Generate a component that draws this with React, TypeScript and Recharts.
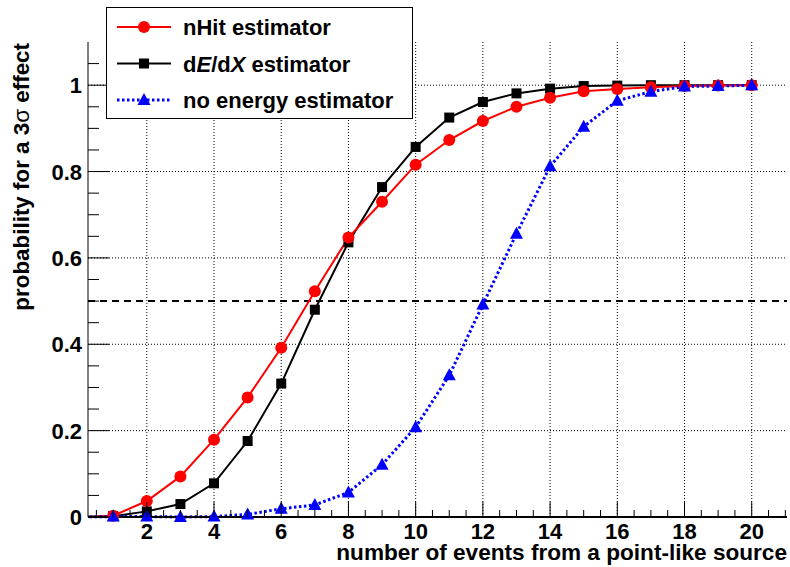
import React from 'react';
import { ComposedChart, Line, XAxis, YAxis, CartesianGrid, ReferenceLine, Legend } from 'recharts';

const xs = [0, 1, 2, 3, 4, 5, 6, 7, 8, 9, 10, 11, 12, 13, 14, 15, 16, 17, 18, 19, 20];
const nHit = [0, 0.003, 0.037, 0.094, 0.179, 0.277, 0.392, 0.523, 0.647, 0.73, 0.816, 0.873, 0.917, 0.95, 0.971, 0.986, 0.991, 0.995, 0.998, 0.999, 1.0];
const dEdX = [0, 0.002, 0.013, 0.03, 0.078, 0.176, 0.309, 0.48, 0.636, 0.764, 0.857, 0.925, 0.961, 0.981, 0.992, 0.998, 0.999, 1.0, 1.0, 1.0, 1.0];
const noEnergy = [0, 0.001, 0.001, 0.0, 0.001, 0.006, 0.019, 0.028, 0.057, 0.121, 0.208, 0.328, 0.492, 0.656, 0.812, 0.904, 0.964, 0.985, 0.997, 0.998, 1.0];

const xTicks = [0.5, 1, 1.5, 2, 2.5, 3, 3.5, 4, 4.5, 5, 5.5, 6, 6.5, 7, 7.5, 8, 8.5, 9, 9.5, 10, 10.5, 11, 11.5, 12, 12.5, 13, 13.5, 14, 14.5, 15, 15.5, 16, 16.5, 17, 17.5, 18, 18.5, 19, 19.5, 20, 20.5, 21];
const yTicks = [0, 0.05, 0.1, 0.15, 0.2, 0.25, 0.3, 0.35, 0.4, 0.45, 0.5, 0.55, 0.6, 0.65, 0.7, 0.75, 0.8, 0.85, 0.9, 0.95, 1.0, 1.05];
const xGrid = [2, 4, 6, 8, 10, 12, 14, 16, 18, 20];
const yGrid = [0.2, 0.4, 0.6, 0.8, 1.0];
const halfLine = 0.5;

const xDomain = [0.25, 21.05];
const yDomain = [0, 1.1];

const rows = xs.map((x, i) => ({ x, nHit: nHit[i], dEdX: dEdX[i], noEnergy: noEnergy[i] }));
const markerRows = rows.filter((r) => r.x >= 1);

const FONT = '"Liberation Sans", Arial, Helvetica, sans-serif';
const RED = '#ff0000';
const BLUE = '#0000ff';
const BLACK = '#000000';

const isMult = (v: number, step: number) => Math.abs(v / step - Math.round(v / step)) < 1e-6;

const XTick = (props: any) => {
  const { x, y, payload } = props;
  const v = payload.value;
  const major = isMult(v, 2);
  return (
    <g>
      <line x1={x} y1={y} x2={x} y2={y - (major ? 15 : 7)} stroke={BLACK} strokeWidth={1} />
      {major && (
        <text x={x} y={y + 22} textAnchor="middle" fontFamily={FONT} fontWeight="bold" fontSize={22} fill={BLACK}>
          {String(v)}
        </text>
      )}
    </g>
  );
};

const YTick = (props: any) => {
  const { x, y, payload } = props;
  const v = payload.value;
  const major = isMult(v, 0.2);
  return (
    <g>
      <line x1={x} y1={y} x2={x + (major ? 21 : 11)} y2={y} stroke={BLACK} strokeWidth={1} />
      {major && (
        <text x={x - 6} y={y + 8} textAnchor="end" fontFamily={FONT} fontWeight="bold" fontSize={22} fill={BLACK}>
          {String(Number(v.toFixed(1)))}
        </text>
      )}
    </g>
  );
};

const circleDot = (p: any) => {
  if (p.cx == null || p.cy == null) return <g key={`c${p.index}`} />;
  return <circle key={`c${p.index}`} cx={p.cx} cy={p.cy} r={6} fill={RED} stroke="none" />;
};
const squareDot = (p: any) => {
  if (p.cx == null || p.cy == null) return <g key={`s${p.index}`} />;
  return <rect key={`s${p.index}`} x={p.cx - 5} y={p.cy - 5} width={10} height={10} fill={BLACK} stroke="none" />;
};
const triDot = (p: any) => {
  if (p.cx == null || p.cy == null) return <g key={`t${p.index}`} />;
  const { cx, cy } = p;
  return (
    <polygon key={`t${p.index}`} points={`${cx},${cy - 7} ${cx - 6.5},${cy + 5} ${cx + 6.5},${cy + 5}`} fill={BLUE} stroke="none" />
  );
};

const legendEntries = [
  { key: 'nHit', color: RED, dash: undefined as string | undefined, width: 2, marker: 'circle' },
  { key: 'dEdX', color: BLACK, dash: undefined as string | undefined, width: 2, marker: 'square' },
  { key: 'noEnergy', color: BLUE, dash: '2.5 2.5', width: 3, marker: 'tri' },
];

const LegendLabel = ({ k }: { k: string }) => {
  if (k === 'nHit') return <>nHit estimator</>;
  if (k === 'dEdX')
    return (
      <>
        d<tspan fontStyle="italic">E</tspan>/d<tspan fontStyle="italic">X</tspan>
        <tspan dx={6}>estimator</tspan>
      </>
    );
  return <>no energy estimator</>;
};

const LegendBox = () => (
  <div
    style={{
      width: 307,
      height: 112,
      border: '1px solid #000',
      background: '#fff',
      boxSizing: 'border-box',
    }}
  >
    <svg width={305} height={110} style={{ display: 'block' }}>
      {legendEntries.map((e, i) => {
        const cy = 19 + i * 36.5;
        const mx = 37;
        return (
          <g key={e.key}>
            <line x1={10} y1={cy} x2={64} y2={cy} stroke={e.color} strokeWidth={e.width} strokeDasharray={e.dash} />
            {e.marker === 'circle' && <circle cx={mx} cy={cy} r={6} fill={e.color} />}
            {e.marker === 'square' && <rect x={mx - 5} y={cy - 5} width={10} height={10} fill={e.color} />}
            {e.marker === 'tri' && (
              <polygon points={`${mx},${cy - 7} ${mx - 6.5},${cy + 5} ${mx + 6.5},${cy + 5}`} fill={e.color} />
            )}
            <text x={76} y={cy + 8} fontFamily={FONT} fontWeight="bold" fontSize={22} fill={BLACK}>
              <LegendLabel k={e.key} />
            </text>
          </g>
        );
      })}
    </svg>
  </div>
);

const XTitle = (props: any) => {
  const vb = props.viewBox || {};
  return (
    <text x={vb.x + vb.width} y={vb.y + 43} textAnchor="end" fontFamily={FONT} fontWeight="bold" fontSize={22.6} fill={BLACK}>
      number of events from a point-like source
    </text>
  );
};

const YTitle = (props: any) => {
  const vb = props.viewBox || {};
  const x = 29;
  const y = vb.y + 1;
  return (
    <text x={x} y={y} transform={`rotate(-90 ${x} ${y})`} textAnchor="end" fontFamily={FONT} fontWeight="bold" fontSize={22.4} fill={BLACK}>
      probability for a 3<tspan fontWeight="normal">σ</tspan> effect
    </text>
  );
};

export default function App() {
  return (
    <div style={{ position: 'absolute', left: 0, top: 0, width: 790, height: 567, background: '#fff' }}>
      <ComposedChart width={790} height={567} data={rows} margin={{ top: 42, right: 3, bottom: 0, left: 0 }}>
        <CartesianGrid
          stroke={BLACK}
          strokeWidth={1}
          strokeDasharray="1 2"
          verticalValues={xGrid}
          horizontalValues={yGrid}
        />
        <XAxis
          dataKey="x"
          type="number"
          domain={xDomain}
          allowDataOverflow
          ticks={xTicks}
          interval={0}
          tickLine={false}
          tickSize={0}
          tickMargin={0}
          tick={<XTick />}
          height={50}
          axisLine={{ stroke: BLACK, strokeWidth: 2 }}
          label={(p: any) => <XTitle {...p} />}
        />
        <XAxis xAxisId="top" orientation="top" dataKey="x" type="number" domain={xDomain} allowDataOverflow height={0} tick={false} tickLine={false} axisLine={{ stroke: BLACK, strokeWidth: 1 }} />
        <XAxis xAxisId="m" dataKey="x" type="number" domain={xDomain} hide />
        <YAxis
          type="number"
          domain={yDomain}
          ticks={yTicks}
          interval={0}
          tickLine={false}
          tickSize={0}
          tickMargin={0}
          tick={<YTick />}
          width={88}
          axisLine={{ stroke: BLACK, strokeWidth: 1 }}
          label={(p: any) => <YTitle {...p} />}
        />
        <YAxis yAxisId="right" orientation="right" type="number" domain={yDomain} width={0} tick={false} tickLine={false} axisLine={{ stroke: BLACK, strokeWidth: 1 }} />
        <ReferenceLine y={halfLine} stroke={BLACK} strokeWidth={2} strokeDasharray="7 5" />

        <Line dataKey="dEdX" stroke={BLACK} strokeWidth={2} dot={false} activeDot={false} isAnimationActive={false} type="linear" legendType="none" />
        <Line data={markerRows} xAxisId="m" dataKey="dEdX" stroke="none" dot={squareDot} activeDot={false} isAnimationActive={false} legendType="none" />
        <Line dataKey="nHit" stroke={RED} strokeWidth={2} dot={false} activeDot={false} isAnimationActive={false} type="linear" legendType="none" />
        <Line data={markerRows} xAxisId="m" dataKey="nHit" stroke="none" dot={circleDot} activeDot={false} isAnimationActive={false} legendType="none" />
        <Line dataKey="noEnergy" stroke={BLUE} strokeWidth={3} strokeDasharray="2.5 2.5" dot={false} activeDot={false} isAnimationActive={false} type="linear" legendType="none" />
        <Line data={markerRows} xAxisId="m" dataKey="noEnergy" stroke="none" dot={triDot} activeDot={false} isAnimationActive={false} legendType="none" />

        <Legend
          layout="horizontal"
          verticalAlign="middle"
          align="center"
          content={() => <LegendBox />}
          wrapperStyle={{ left: 106, top: 7, width: 307, height: 112 }}
        />
      </ComposedChart>
    </div>
  );
}
